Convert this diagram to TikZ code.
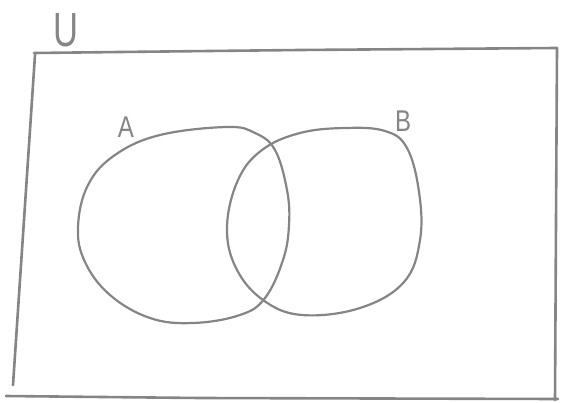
\documentclass[tikz,border=0pt]{standalone}
\usepackage{fontspec}
\setsansfont{Liberation Sans}
\definecolor{SketchInk}{gray}{0.52}
\tikzset{
    sketch/diagram/.style={
        x=1pt, y=-1pt,
        line cap=round,
        line join=round
    },
    sketch/frame/.style={draw=SketchInk, line width=2.6pt},
    sketch/set/.style={draw=SketchInk, line width=2.2pt},
    sketch/letter/.style={text=SketchInk, font=\sffamily\fontsize{30}{30}\selectfont, inner sep=0pt}
}
\begin{document}
\begin{tikzpicture}[sketch/diagram]
    \useasboundingbox (0,0) rectangle (561,403);
    % the universe, drawn as four loose strokes
    \draw[sketch/frame] (34,53) -- (120,52) -- (300,50) -- (557,48);
    \draw[sketch/frame] (35,55) -- (24,220) -- (13,385);
    \draw[sketch/frame] (557,48) -- (556,220) -- (555,400);
    \draw[sketch/frame] (6,396) -- (200,398) -- (558,399);
    % the two sets
    \draw[sketch/set] plot[smooth cycle, tension=0.65] coordinates {
        (78,227) (88,185) (115,155) (160,135) (227,127) (255,133)
        (275,150) (287,190) (289,225) (283,260) (265,298) (240,315)
        (193,323) (150,318) (110,295) (85,262)};
    \draw[sketch/set] plot[smooth cycle, tension=0.65] coordinates {
        (227,227) (238,180) (262,150) (300,133) (345,128) (385,131)
        (407,148) (419,192) (420,240) (404,282) (360,308) (302,315)
        (263,300) (236,268)};
    % labels
    \node[sketch/letter, font=\sffamily\fontsize{48}{48}\selectfont] (univ) at (66,30) {\scalebox{0.72}[1]{U}};
    \node[sketch/letter] (setA) at (126,127) {\scalebox{0.8}[1]{A}};
    \node[sketch/letter] (setB) at (403,121) {\scalebox{0.8}[1]{B}};
\end{tikzpicture}
\end{document}
